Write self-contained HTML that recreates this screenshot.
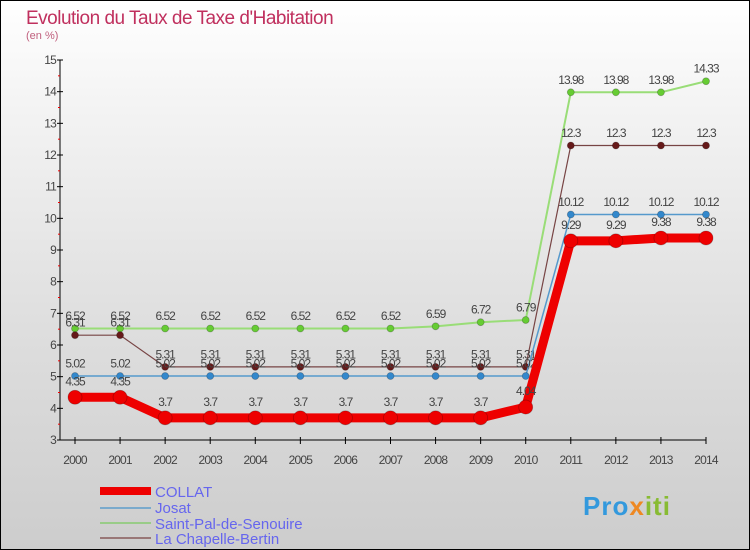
<!DOCTYPE html>
<html><head><meta charset="utf-8"><style>
body{margin:0}
#c{width:750px;height:550px;position:relative;box-sizing:border-box;border:1px solid #000;background:linear-gradient(#ffffff,#f3f3f3 20%,#dedede 60%,#cdcdcd);font-family:"Liberation Sans",sans-serif;overflow:hidden}
</style></head><body>
<div id="c">
<svg id="s" width="750" height="550" style="position:absolute;left:-1px;top:-1px">
<text x="26" y="24" font-size="19" fill="#c0305e" letter-spacing="-0.5">Evolution du Taux de Taxe d'Habitation</text>
<text x="26" y="39" font-size="11" fill="#c0607e">(en %)</text>
<g id="ax"></g><g id="ser"></g>
<g>
<rect x="100" y="487" width="51" height="8" fill="#e00"/>
<text x="155" y="497" font-size="15" fill="#6666ee">COLLAT</text>
<rect x="100" y="507" width="51" height="2" fill="#7aaacc"/>
<text x="155" y="513" font-size="15" fill="#6666ee">Josat</text>
<rect x="100" y="522" width="51" height="2" fill="#99cc88"/>
<text x="155" y="529" font-size="15" fill="#6666ee">Saint-Pal-de-Senouire</text>
<rect x="100" y="537" width="51" height="2" fill="#997777"/>
<text x="155" y="544" font-size="15" fill="#6666ee">La Chapelle-Bertin</text>
</g>
<text x="583" y="515" font-size="26" font-weight="bold" fill="#3399dd" letter-spacing="1">Pro<tspan fill="#ee8822">x</tspan><tspan fill="#88bb33">iti</tspan></text>
</svg>
</div>
<script>
const years=[2000,2001,2002,2003,2004,2005,2006,2007,2008,2009,2010,2011,2012,2013,2014];
const collat=[4.35,4.35,3.7,3.7,3.7,3.7,3.7,3.7,3.7,3.7,4.04,9.29,9.29,9.38,9.38];
const josat=[5.02,5.02,5.02,5.02,5.02,5.02,5.02,5.02,5.02,5.02,5.02,10.12,10.12,10.12,10.12];
const saintPal=[6.52,6.52,6.52,6.52,6.52,6.52,6.52,6.52,6.59,6.72,6.79,13.98,13.98,13.98,14.33];
const chapelle=[6.31,6.31,5.31,5.31,5.31,5.31,5.31,5.31,5.31,5.31,5.31,12.3,12.3,12.3,12.3];
const yTicks=[3,4,5,6,7,8,9,10,11,12,13,14,15];
const NS='http://www.w3.org/2000/svg';
const X=i=>75+i*(706-75)/(years.length-1);
const Y=v=>440-(v-3)*(380/12);
function mk(t,a,p){const e=document.createElementNS(NS,t);for(const k in a)e.setAttribute(k,a[k]);p.appendChild(e);return e;}
const ax=document.getElementById('ax'),ser=document.getElementById('ser');
let e=mk('line',{x1:60,y1:60,x2:60,y2:440,stroke:'#000'},ax);


e=mk('line',{x1:60,y1:440,x2:706,y2:440,stroke:'#000'},ax);


yTicks.forEach(v=>{
 mk('line',{x1:57,x2:63,y1:Y(v),y2:Y(v),stroke:'#000'},ax);
 if(v<15) mk('line',{x1:58,x2:60,y1:Y(v+0.5),y2:Y(v+0.5),stroke:'#e00'},ax);
 const t=mk('text',{x:56,y:Y(v)+4,'font-size':12,fill:'#444','text-anchor':'end','letter-spacing':'-0.8'},ax);
 t.textContent=v;
 
 
});
years.forEach((y,i)=>{
 mk('line',{x1:X(i),x2:X(i),y1:437,y2:444,stroke:'#000'},ax);
 const t=mk('text',{x:X(i),y:464,'font-size':12,fill:'#444','text-anchor':'middle','letter-spacing':'-0.8'},ax);
 t.textContent=y;
 
 
});
function series(vals,col,dot,w,r,name){
 const g=mk('g',{},ser);
 
 
 mk('polyline',{points:vals.map((v,i)=>X(i)+','+Y(v)).join(' '),fill:'none',stroke:col,'stroke-width':w,'stroke-linejoin':'round'},g);
 vals.forEach((v,i)=>{
  const c=mk('circle',{cx:X(i),cy:Y(v),r:r,fill:dot,stroke:'rgba(0,0,0,0.25)','stroke-width':0.8},g);
  
  
  const t=mk('text',{x:X(i),y:Y(v)-(r+5),'font-size':12,fill:'#444','text-anchor':'middle','letter-spacing':'-1'},g);
  t.textContent=v;
  
  
 });
}
series(saintPal,'#99dd77','#66cc33',2,3.5,'saint-pal');
series(chapelle,'#774444','#661a1a',1.2,3.5,'la-chapelle');
series(josat,'#5599cc','#3388cc',1.5,3.5,'josat');
series(collat,'#ee0000','#ee0000',9,7,'collat');
</script>
</body></html>
